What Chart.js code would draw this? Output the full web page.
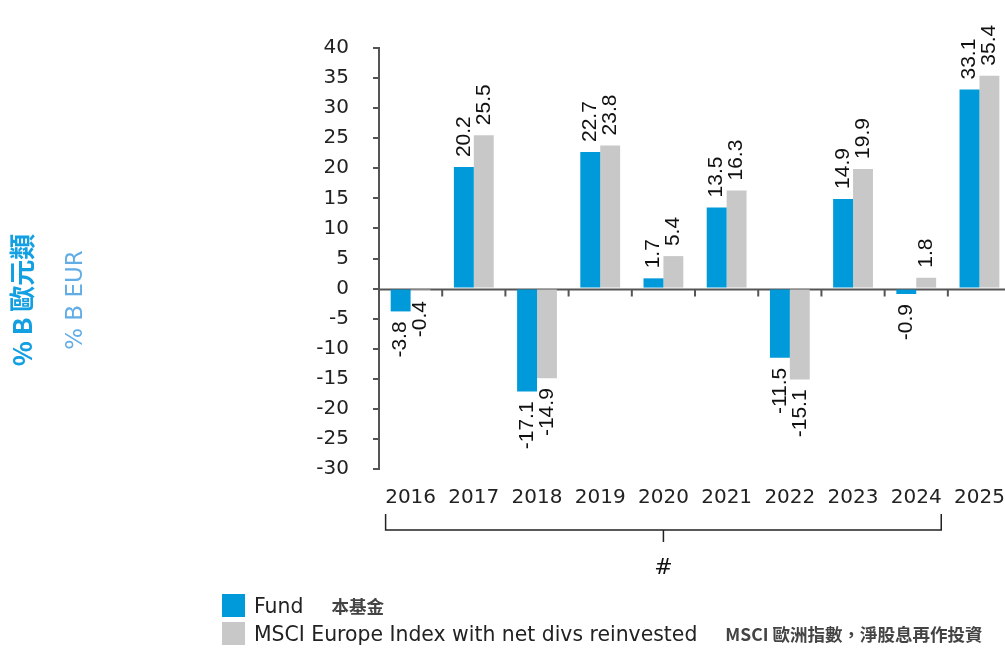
<!DOCTYPE html>
<html lang="zh-Hant">
<head>
  <meta charset="UTF-8">
  <title>Fund vs MSCI Europe</title>
  <script src="https://cdn.jsdelivr.net/npm/chart.js"></script>
  <style>
    body {
      margin: 0;
      background: #fff;
      overflow: hidden;
      width: 1005px;
      height: 648px;
      position: relative;
    }
    #wrap {
      position: absolute;
      left: 0;
      top: 0;
      width: 1022px;
      height: 648px;
    }
    .legend {
      position: absolute;
      left: 222px;
      font-family: 'DejaVu Sans', sans-serif;
      font-size: 20.4px;
      color: #222;
      display: flex;
      align-items: center;
      height: 23px;
      white-space: nowrap;
    }
    .legend .box {
      width: 23px;
      height: 23px;
      margin-right: 9px;
    }
    .legend .zh {
      font-family: 'Noto Sans CJK TC', sans-serif;
      font-weight: bold;
      font-size: 17.5px;
      color: #444;
    }
  </style>
</head>
<body>

  <div id="wrap">
    <canvas id="perfChart" width="1022" height="648"></canvas>
  </div>

  <div class="legend" style="top:594px">
    <span class="box" style="background:#0099da"></span>
    <span>Fund</span>
    <span class="zh" style="margin-left:28px">本基金</span>
  </div>
  <div class="legend" style="top:622px">
    <span class="box" style="background:#c8c8c8"></span>
    <span>MSCI Europe Index with net divs reinvested</span>
    <span class="zh" style="margin-left:28px">MSCI 歐洲指數，淨股息再作投資</span>
  </div>

  <script>
    const years = ['2016', '2017', '2018', '2019', '2020', '2021', '2022', '2023', '2024', '2025'];
    const fundReturns = [-3.8, 20.2, -17.1, 22.7, 1.7, 13.5, -11.5, 14.9, -0.9, 33.1];
    const indexReturns = [-0.4, 25.5, -14.9, 23.8, 5.4, 16.3, -15.1, 19.9, 1.8, 35.4];

    const axisColor = '#555';

    // zero line + little ticks at category boundaries, bracket under the years, y titles
    const decorations = {
      id: 'decorations',
      beforeDatasetsDraw(chart) {
        const { ctx, chartArea, scales: { x, y } } = chart;
        const y0 = y.getPixelForValue(0) + 1;
        const half = (x.getPixelForValue(1) - x.getPixelForValue(0)) / 2;
        ctx.save();
        ctx.strokeStyle = axisColor;
        ctx.lineWidth = 2;
        ctx.beginPath();
        ctx.moveTo(chartArea.left, y0);
        ctx.lineTo(chartArea.right, y0);
        for (let i = 0; i < years.length; i++) {
          const bx = x.getPixelForValue(i) + half;
          ctx.moveTo(bx, y0);
          ctx.lineTo(bx, y0 + 7);
        }
        ctx.stroke();
        ctx.restore();
      },
      afterDraw(chart) {
        const { ctx, scales: { x } } = chart;
        ctx.save();
        // bracket
        const left = x.getPixelForValue(0) - 25;
        const right = x.getPixelForValue(8) + 25;
        const mid = (left + right) / 2;
        ctx.strokeStyle = '#222';
        ctx.lineWidth = 1.5;
        ctx.beginPath();
        ctx.moveTo(left, 514);
        ctx.lineTo(left, 530);
        ctx.lineTo(right, 530);
        ctx.lineTo(right, 514);
        ctx.moveTo(mid, 530);
        ctx.lineTo(mid, 542);
        ctx.stroke();
        ctx.fillStyle = '#111';
        ctx.font = '22px "DejaVu Sans"';
        ctx.textAlign = 'center';
        ctx.textBaseline = 'middle';
        ctx.fillText('#', mid, 568);

        // y axis titles
        ctx.translate(22, 300);
        ctx.rotate(-Math.PI / 2);
        ctx.fillStyle = '#13a0e2';
        ctx.font = 'bold 26px "Noto Sans CJK TC"';
        ctx.fillText('% B 歐元類', 0, 0);
        ctx.setTransform(1, 0, 0, 1, 0, 0);
        ctx.translate(76, 300);
        ctx.rotate(-Math.PI / 2);
        ctx.fillStyle = '#63ade6';
        ctx.font = '23px "DejaVu Sans"';
        ctx.fillText('% B EUR', 0, 0);
        ctx.restore();
      }
    };

    // rotated value labels at the end of each bar
    const valueLabels = {
      id: 'valueLabels',
      afterDatasetsDraw(chart) {
        const { ctx } = chart;
        ctx.save();
        ctx.font = '21px "Liberation Sans"';
        ctx.fillStyle = '#111';
        ctx.textBaseline = 'middle';
        chart.data.datasets.forEach((ds, di) => {
          chart.getDatasetMeta(di).data.forEach((bar, i) => {
            const v = ds.data[i];
            const txt = v.toFixed(1);
            const w = ctx.measureText(txt).width;
            ctx.setTransform(1, 0, 0, 1, 0, 0);
            if (v >= 0) {
              const start = Math.max(bar.y - 10, 18 + w);
              ctx.translate(bar.x, start);
              ctx.rotate(-Math.PI / 2);
              ctx.textAlign = 'left';
            } else {
              ctx.translate(bar.x, bar.y + 10);
              ctx.rotate(-Math.PI / 2);
              ctx.textAlign = 'right';
            }
            ctx.fillText(txt, 0, 0);
          });
        });
        ctx.restore();
      }
    };

    new Chart(document.getElementById('perfChart'), {
      type: 'bar',
      data: {
        labels: years,
        datasets: [
          { label: 'Fund', data: fundReturns, backgroundColor: '#0099da' },
          { label: 'MSCI Europe Index with net divs reinvested', data: indexReturns, backgroundColor: '#c8c8c8' }
        ]
      },
      options: {
        responsive: false,
        animation: false,
        layout: { padding: { top: 48, right: 2, bottom: 0, left: 0 } },
        plugins: {
          legend: { display: false },
          tooltip: { enabled: false }
        },
        datasets: {
          bar: { categoryPercentage: 0.63, barPercentage: 1 }
        },
        scales: {
          x: {
            grid: { display: false, drawTicks: false },
            border: { display: false },
            ticks: {
              color: '#222',
              font: { family: 'DejaVu Sans', size: 20 },
              padding: 17,
              maxRotation: 0,
              autoSkip: false
            },
            afterFit(scale) { scale.height = 179; }
          },
          y: {
            min: -30,
            max: 40,
            ticks: {
              stepSize: 5,
              color: '#222',
              font: { family: 'DejaVu Sans', size: 20 },
              padding: 24
            },
            grid: {
              drawOnChartArea: false,
              color: axisColor,
              lineWidth: 2,
              tickLength: 6
            },
            border: { color: axisColor, width: 2 },
            afterFit(scale) { scale.width = 379; }
          }
        }
      },
      plugins: [decorations, valueLabels]
    });
  </script>

</body>
</html>
